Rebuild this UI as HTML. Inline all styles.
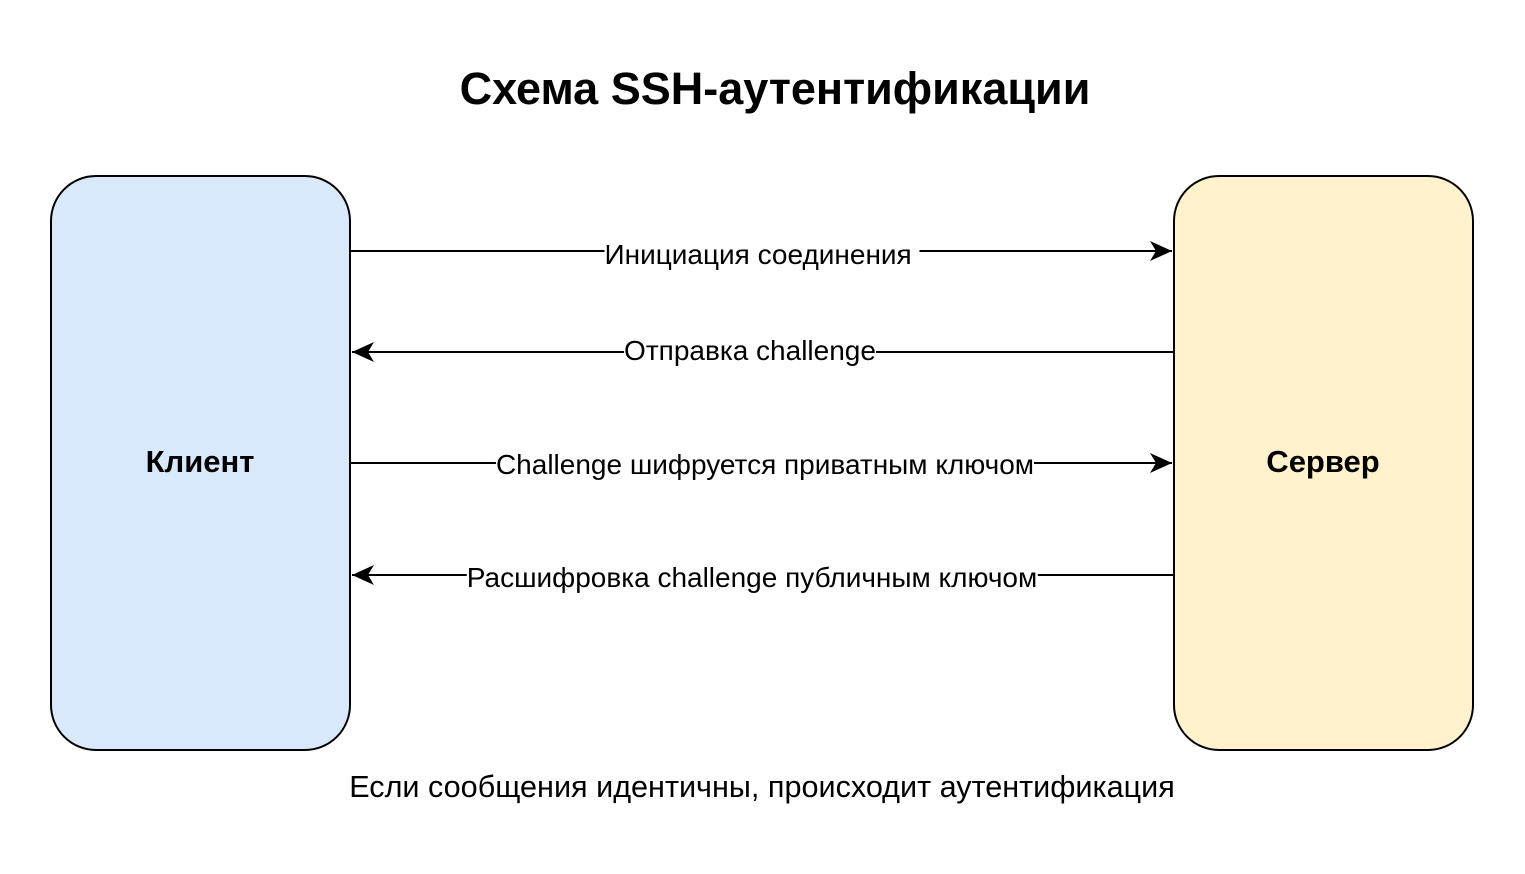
<!DOCTYPE html>
<html><head><meta charset="utf-8"><style>
html,body{margin:0;padding:0;background:#fff;}
body{width:1525px;height:874px;position:relative;overflow:hidden;font-family:"Liberation Sans","DejaVu Sans",sans-serif;}
.t{position:absolute;white-space:nowrap;transform:translate(-50%,-50%);font-size:28px;color:#000;background:#fff;line-height:28px;}
</style></head><body>
<svg width="1525" height="874" style="position:absolute;left:0;top:0">
<defs>
<marker id="a" markerWidth="24" markerHeight="20" refX="22" refY="10" orient="auto" markerUnits="userSpaceOnUse">
<path d="M0,0 L22,10 L0,20 L6,10 Z" fill="#000"/>
</marker>
</defs>
<rect x="51" y="176" width="299" height="574" rx="45" ry="45" fill="#dae8fc" stroke="#000" stroke-width="2"/>
<rect x="1174" y="176" width="299" height="574" rx="45" ry="45" fill="#fff2cc" stroke="#000" stroke-width="2"/>
<line x1="351" y1="251" x2="1172" y2="251" stroke="#000" stroke-width="2" marker-end="url(#a)"/>
<line x1="1173" y1="352" x2="352" y2="352" stroke="#000" stroke-width="2" marker-end="url(#a)"/>
<line x1="351" y1="463" x2="1172" y2="463" stroke="#000" stroke-width="2" marker-end="url(#a)"/>
<line x1="1173" y1="575" x2="352" y2="575" stroke="#000" stroke-width="2" marker-end="url(#a)"/>
</svg>
<div class="t" style="left:775px;top:89px;font-size:45px;font-weight:bold;background:none;line-height:50px">Схема SSH-аутентификации</div>
<div class="t" style="left:200px;top:462px;font-weight:bold;font-size:31px;background:none">Клиент</div>
<div class="t" style="left:1323px;top:462px;font-weight:bold;font-size:31px;background:none">Сервер</div>
<div class="t" style="left:762px;top:255px">Инициация соединения&nbsp;</div>
<div class="t" style="left:750px;top:351px">Отправка challenge</div>
<div class="t" style="left:765px;top:465px">Challenge шифруется приватным ключом</div>
<div class="t" style="left:752px;top:578px">Расшифровка challenge публичным ключом</div>
<div class="t" style="left:762px;top:787px;background:none;font-size:30.6px">Если сообщения идентичны, происходит аутентификация</div>
</body></html>
